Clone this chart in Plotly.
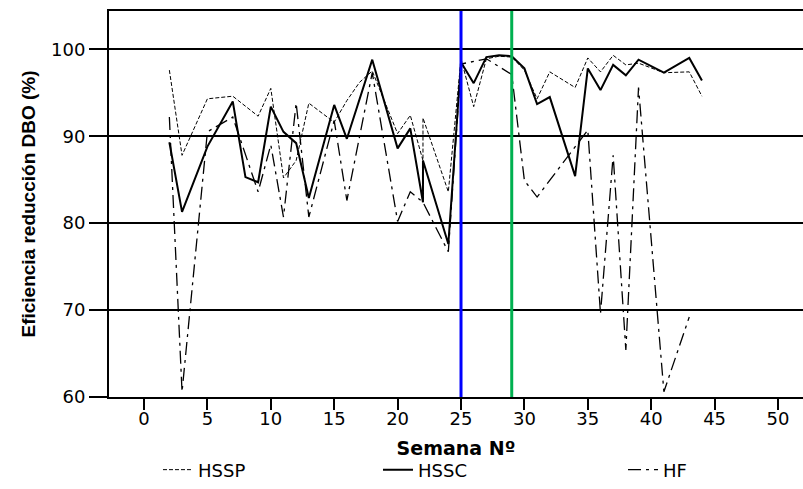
import plotly.graph_objects as go

# ---- data ----
hssp_sem = [2, 3, 5, 7, 9, 10, 11, 12, 13, 15, 16, 17, 18, 20, 21, 22, 22, 24, 25, 26, 27, 28, 29, 30,
            31, 32, 34, 35, 36, 37, 38, 39, 41, 43, 44]
hssp_val = [97.6, 87.8, 94.3, 94.6, 92.3, 95.5, 85.2, 87.2, 93.8, 91.6, 94.1, 96.2, 97.5, 90.3, 92.4,
            87.2, 92.1, 83.6, 98.9, 93.4, 98.9, 99.2, 99.1, 97.6, 94.3, 97.4, 95.6, 99.0, 97.4, 99.3,
            98.2, 98.4, 97.3, 97.4, 94.6]

hssc_sem = [2, 3, 5, 7, 8, 9, 10, 11, 12, 13, 15, 16, 18, 20, 21, 22, 22, 24, 25, 26, 27, 28, 29, 30,
            31, 32, 34, 35, 36, 37, 38, 39, 41, 43, 44]
hssc_val = [89.3, 81.3, 88.8, 94.0, 85.3, 84.7, 93.4, 90.5, 89.2, 82.9, 93.6, 89.7, 98.8, 88.6, 90.9,
            82.4, 87.2, 77.6, 98.5, 96.1, 99.1, 99.3, 99.2, 97.8, 93.7, 94.5, 85.4, 97.8, 95.3, 98.2,
            97.0, 98.8, 97.3, 99.0, 96.4]

hf_sem = [2, 3, 5, 7, 9, 10, 11, 12, 13, 15, 16, 18, 20, 21, 22, 24, 25, 27, 29, 30, 31, 35, 36, 37,
          38, 39, 41, 43]
hf_val = [92.2, 60.6, 90.5, 92.2, 83.6, 89.0, 80.7, 93.8, 80.7, 91.8, 82.6, 97.3, 80.2, 83.6, 82.4,
          76.7, 98.3, 98.9, 97.1, 84.9, 83.0, 90.7, 69.6, 87.8, 65.4, 95.6, 60.6, 69.2]

marcas_semana = [25, 29]
marcas_color = ["#0000FF", "#00B050"]

x_ticks = list(range(0, 51, 5))
y_ticks = [60, 70, 80, 90, 100]

FONT = "DejaVu Sans"

fig = go.Figure()
fig.add_trace(go.Scatter(x=hssp_sem, y=hssp_val, mode="lines", name="HSSP", showlegend=True,
                         line=dict(color="black", width=1, dash="4px,2px"), legend="legend"))
fig.add_trace(go.Scatter(x=hssc_sem, y=hssc_val, mode="lines", name="HSSC", showlegend=True,
                         line=dict(color="black", width=2), legend="legend2"))
fig.add_trace(go.Scatter(x=hf_sem, y=hf_val, mode="lines", name="HF", showlegend=True,
                         line=dict(color="black", width=1.3, dash="13px,5px,3px,5px"), legend="legend3"))

for xs, col in zip(marcas_semana, marcas_color):
    fig.add_shape(type="line", xref="x", yref="paper", x0=xs, x1=xs, y0=0, y1=1,
                  line=dict(color=col, width=3))

leg_common = dict(orientation="h", xanchor="left", yanchor="middle", y=-0.189,
                  bgcolor="rgba(0,0,0,0)", font=dict(family=FONT, size=18, color="black"))

fig.update_layout(
    width=803, height=489,
    margin=dict(l=109, r=0, t=11, b=92),
    plot_bgcolor="white", paper_bgcolor="white",
    showlegend=True,
    legend=dict(x=0.0706, **leg_common),
    legend2=dict(x=0.3876, **leg_common),
    legend3=dict(x=0.7406, **leg_common),
    xaxis=dict(range=[-2.76, 51.97], tickvals=x_ticks, ticks="outside", ticklen=11, tickwidth=2,
               tickcolor="black", showline=True, linecolor="black", linewidth=2, mirror=True,
               showgrid=False, zeroline=False, ticklabelstandoff=-7,
               tickfont=dict(family=FONT, size=18, color="black"),
               title=dict(text="<b>Semana Nº</b>", standoff=14,
                          font=dict(family=FONT, size=19, color="black"))),
    yaxis=dict(range=[60, 104.4], tickvals=y_ticks, ticks="outside", ticklen=18, tickwidth=2,
               tickcolor="black", showline=True, linecolor="black", linewidth=2,
               showgrid=True, gridcolor="black", gridwidth=1.5, zeroline=False,
               tickfont=dict(family=FONT, size=18, color="black"),
               title=dict(text="<b>Eficiencia reducción DBO (%)</b>", standoff=10,
                          font=dict(family="Liberation Sans", size=19, color="black"))),
)

fig.write_html("out.html")
